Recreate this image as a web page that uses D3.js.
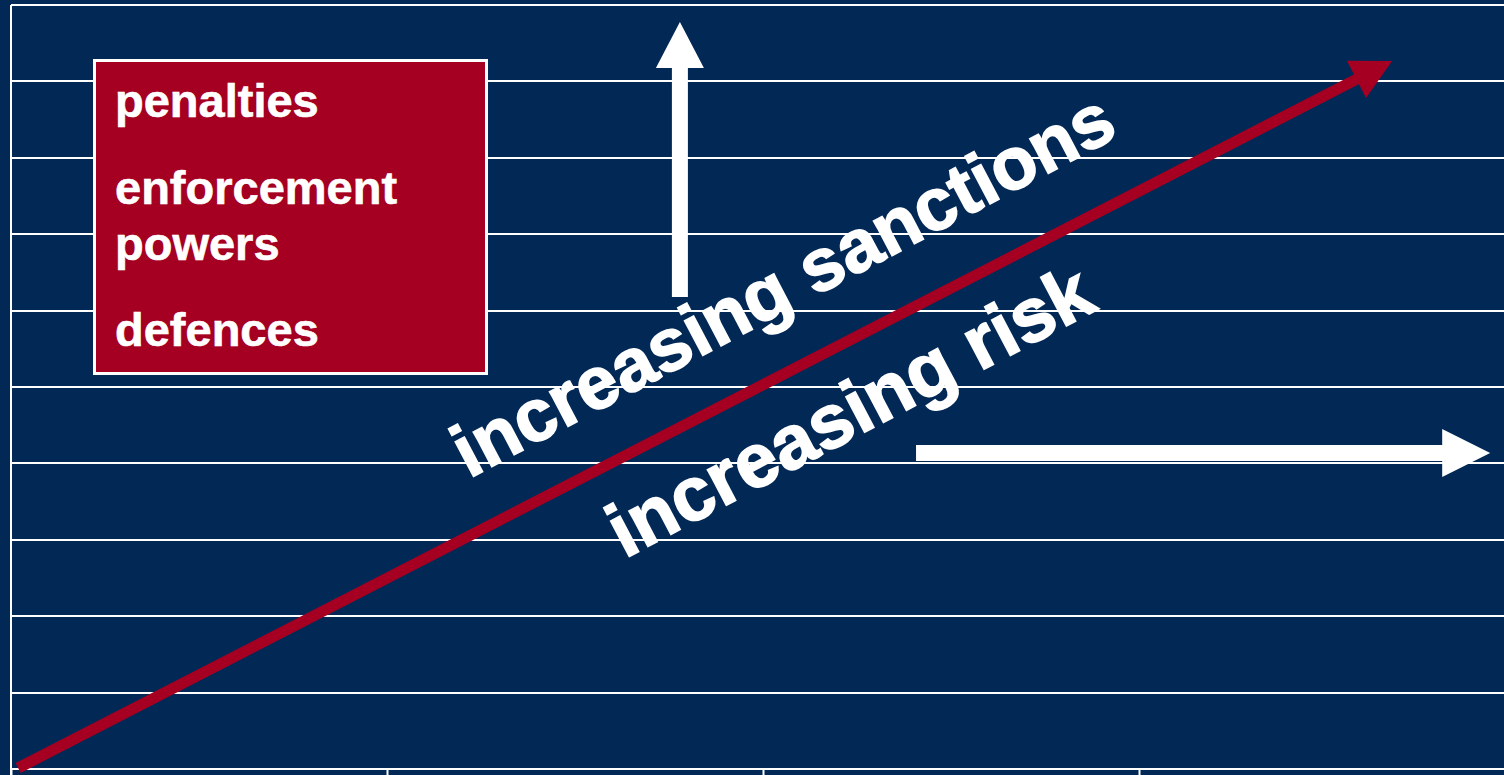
<!DOCTYPE html>
<html lang="en">
<head>
    <meta charset="UTF-8">
    <title>Increasing sanctions, increasing risk</title>
    <script src="https://d3js.org/d3.v7.min.js"></script>
    <style>
        html, body { margin: 0; padding: 0; background: #022856; overflow: hidden; }
        .grid line { stroke: #fff; stroke-width: 2; }
        .label { font-family: "Liberation Sans", Arial, sans-serif; font-weight: bold; fill: #fff; stroke: #fff; }
    </style>
</head>
<body>
    <div id="chart"></div>
    <script>
        // x bands along the bottom and y gridline levels
        const xTicks = [0, 1, 2, 3, 4];
        const yLevels = [0, 1, 2, 3, 4, 5, 6, 7, 8, 9, 10];

        // diagonal red arrow (data units): start and tip
        const riskLineX = [0.019, 3.673];
        const riskLineY = [0.013, 9.267];

        // white up arrow (sanctions) and right arrow (risk)
        const upArrowX = [1.779, 1.779];
        const upArrowY = [6.178, 9.777];
        const rightArrowX = [2.407, 3.934];
        const rightArrowY = [4.136, 4.136];

        // box contents
        const boxLines = ["penalties", "enforcement", "powers", "defences"];
        const diagLabels = ["increasing sanctions", "increasing risk"];
        const diagLabelX = [1.218, 1.632];
        const diagLabelY = [3.80, 2.75];
        const diagLabelSize = [74, 76];

        const width = 1504, height = 775;
        const svg = d3.select("#chart").append("svg")
            .attr("width", width)
            .attr("height", height);

        svg.append("rect")
            .attr("width", width)
            .attr("height", height)
            .attr("fill", "#022856");

        const x = d3.scaleLinear().domain([0, 4]).range([11, 1515]);
        const y = d3.scaleLinear().domain([0, 10]).range([769, 5]);

        // horizontal gridlines
        svg.append("g").attr("class", "grid")
            .selectAll("line")
            .data(yLevels)
            .join("line")
            .attr("x1", x(0))
            .attr("x2", width)
            .attr("y1", d => Math.round(y(d)))
            .attr("y2", d => Math.round(y(d)));

        // left axis line
        svg.append("line")
            .attr("x1", x(0)).attr("x2", x(0))
            .attr("y1", y(10)).attr("y2", height)
            .attr("stroke", "#fff").attr("stroke-width", 2);

        // bottom axis ticks
        const xAxis = svg.append("g")
            .attr("transform", `translate(0,${Math.round(y(0))})`)
            .call(d3.axisBottom(x).tickValues(xTicks).tickSize(8).tickFormat(""));
        xAxis.select(".domain").remove();
        xAxis.selectAll("line").attr("stroke", "#fff").attr("stroke-width", 2);

        // box with the list
        svg.append("rect")
            .attr("x", 94.5).attr("y", 60.5)
            .attr("width", 392).attr("height", 313)
            .attr("fill", "#a50021")
            .attr("stroke", "#fff").attr("stroke-width", 3);

        const lineY = [117, 204, 260, 346];
        svg.selectAll(".boxText")
            .data(boxLines)
            .join("text")
            .attr("class", "label boxText")
            .attr("x", 115)
            .attr("y", (d, i) => lineY[i])
            .attr("font-size", 47)
            .attr("stroke-width", 0.6)
            .text(d => d);

        // arrow helper: shaft + triangular head
        function arrow(xs, ys, color, shaftW, headLen, headHalf) {
            const x0 = x(xs[0]), y0 = y(ys[0]), x1 = x(xs[1]), y1 = y(ys[1]);
            const dx = x1 - x0, dy = y1 - y0, len = Math.hypot(dx, dy);
            const ux = dx / len, uy = dy / len, px = -uy, py = ux;
            const bx = x1 - ux * headLen, by = y1 - uy * headLen;
            svg.append("line")
                .attr("x1", x0).attr("y1", y0)
                .attr("x2", bx + ux * 2).attr("y2", by + uy * 2)
                .attr("stroke", color).attr("stroke-width", shaftW);
            svg.append("path")
                .attr("d", `M${x1},${y1}L${bx + px * headHalf},${by + py * headHalf}L${bx - px * headHalf},${by - py * headHalf}Z`)
                .attr("fill", color);
        }

        arrow(upArrowX, upArrowY, "#fff", 16, 46, 24);
        arrow(rightArrowX, rightArrowY, "#fff", 16, 48, 24);

        // diagonal labels
        const angle = -27.8;
        svg.selectAll(".diag")
            .data(diagLabels)
            .join("text")
            .attr("class", "label diag")
            .attr("font-size", (d, i) => diagLabelSize[i])
            .attr("stroke-width", 1.6)
            .attr("transform", (d, i) => `translate(${x(diagLabelX[i])},${y(diagLabelY[i])}) rotate(${angle})`)
            .text(d => d);

        // red diagonal arrow on top
        arrow(riskLineX, riskLineY, "#a50021", 11, 40, 21);
    </script>
</body>
</html>
